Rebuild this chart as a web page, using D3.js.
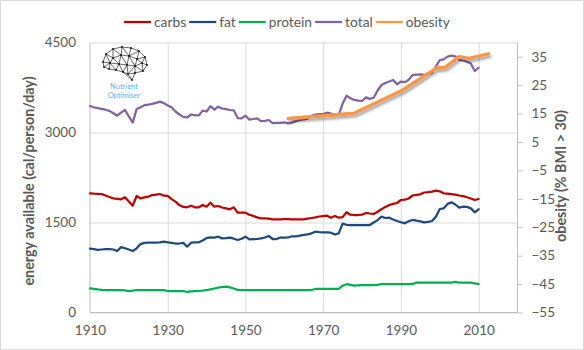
<!DOCTYPE html>
<html><head><meta charset="utf-8">
<script src="https://cdn.jsdelivr.net/npm/d3@7/dist/d3.min.js"></script>
<style>
body{margin:0;background:#fff}
svg{display:block}
text{font-family:Lato,"Open Sans",sans-serif}
</style>
</head><body>
<svg id="c" width="584" height="350"></svg>
<script>
// ---------- data ----------
const firstYear = 1910, lastYear = 2010;
const years = d3.range(firstYear, lastYear + 1);

const carbs = [
 1986,1980,1978,1975,1950,1925,1903,1895,1886,1920,
 1850,1780,1942,1903,1920,1930,1958,1965,1975,1947,
 1942,1890,1847,1790,1760,1753,1780,1753,1753,1792,
 1763,1830,1763,1775,1750,1736,1720,1753,1664,1664,
 1664,1630,1610,1585,1570,1570,1565,1553,1553,1553,
 1558,1555,1553,1553,1553,1553,1565,1575,1585,1600,
 1608,1614,1580,1608,1580,1590,1670,1630,1625,1625,
 1630,1660,1650,1642,1680,1720,1760,1792,1810,1825,
 1875,1880,1900,1950,1960,1969,2000,2005,2014,2031,
 2020,1986,1980,1972,1965,1950,1940,1920,1900,1875,
 1892];
const fat = [
 1063,1055,1045,1050,1055,1058,1050,1025,1090,1070,
 1050,1025,1070,1140,1160,1164,1164,1164,1170,1181,
 1170,1160,1150,1150,1160,1097,1164,1168,1170,1200,
 1240,1253,1247,1264,1235,1240,1247,1230,1208,1230,
 1264,1219,1222,1225,1236,1250,1275,1225,1225,1250,
 1247,1250,1270,1268,1281,1295,1303,1320,1347,1340,
 1336,1335,1331,1300,1319,1480,1462,1458,1458,1458,
 1458,1458,1458,1500,1540,1597,1575,1580,1550,1525,
 1505,1486,1520,1542,1530,1520,1503,1510,1525,1597,
 1725,1736,1810,1836,1800,1747,1764,1760,1736,1670,
 1720];
const protein = [
 403,395,385,378,375,375,375,375,375,368,
 358,365,375,375,375,375,375,375,375,372,
 358,358,358,358,355,342,352,358,360,364,
 375,386,400,414,425,431,418,400,378,375,
 375,375,375,375,375,375,375,375,375,375,
 375,375,375,375,375,375,375,375,392,392,
 392,392,392,392,392,447,472,460,447,452,
 458,458,458,458,462,475,475,475,475,475,
 475,475,475,475,497,497,497,497,497,497,
 497,497,497,497,510,497,497,497,497,485,
 475];
const total = [
 3442,3420,3405,3395,3380,3360,3320,3280,3330,3375,
 3270,3165,3390,3420,3455,3465,3478,3495,3514,3490,
 3450,3420,3350,3300,3260,3250,3300,3290,3285,3365,
 3350,3440,3380,3430,3400,3390,3375,3370,3240,3236,
 3280,3215,3225,3236,3190,3195,3208,3155,3160,3160,
 3168,3153,3165,3190,3208,3220,3230,3280,3300,3305,
 3308,3330,3315,3292,3292,3480,3614,3570,3542,3530,
 3525,3586,3560,3580,3700,3792,3825,3850,3875,3805,
 3847,3840,3880,3958,3965,3968,3960,3970,3997,4100,
 4208,4219,4264,4281,4270,4210,4200,4180,4150,4025,
 4081];
const obesityYears = [1961, 1971, 1978, 1990.5, 1999, 2001.5, 2005, 2007.5, 2012.5];
const obesity      = [13.3, 14.3, 15.1, 23.3,   30.9, 31.3,   35.0, 34.4,   36.0];

const xTicks = [1910, 1930, 1950, 1970, 1990, 2010];
const leftTicks = [0, 1500, 3000, 4500];
const rightTicks = [35, 25, 15, 5, -5, -15, -25, -35, -45, -55];

const seriesNames = ["carbs", "fat", "protein", "total", "obesity"];
const seriesColors = ["#C00000", "#1F497D", "#00B050", "#8064A2", "#F79646"];

// ---------- layout ----------
const svg = d3.select("#c");
const L = 90, R = 517.5, T = 42.5, B = 312.5;
const x = d3.scaleLinear().domain([1910, 2020]).range([L, R]);
const yL = d3.scaleLinear().domain([0, 4500]).range([B, T]);
const yR = d3.scaleLinear().domain([-55, 40]).range([B, T]);
const txtCol = "#595959", gridCol = "#d9d9d9", axisCol = "#bfbfbf";

// outer border
svg.append("rect").attr("x", 0.5).attr("y", 0.5).attr("width", 583).attr("height", 349)
  .attr("fill", "#fff").attr("stroke", gridCol);

const defs = svg.append("defs");
const f = defs.append("filter").attr("id", "shadow").attr("x", "-10%").attr("y", "-50%").attr("width", "130%").attr("height", "250%");
f.append("feDropShadow").attr("dx", 1.5).attr("dy", 2.5).attr("stdDeviation", 1.3)
  .attr("flood-color", "#000").attr("flood-opacity", 0.35);

// gridlines
const gy = svg.append("g").attr("transform", `translate(${L},0)`)
  .call(d3.axisLeft(yL).tickValues(leftTicks).tickSize(-(R - L)).tickFormat(""));
gy.select(".domain").remove();
gy.selectAll("line").attr("stroke", gridCol).attr("stroke-width", 1);
const gx = svg.append("g").attr("transform", `translate(0,${B})`)
  .call(d3.axisBottom(x).tickValues(xTicks.slice(1)).tickSize(-(B - T)).tickFormat(""));
gx.select(".domain").remove();
gx.selectAll("line").attr("stroke", gridCol).attr("stroke-width", 1);

// axis lines
svg.append("line").attr("x1", L).attr("x2", L).attr("y1", T).attr("y2", B).attr("stroke", axisCol);
svg.append("line").attr("x1", L).attr("x2", R).attr("y1", B).attr("y2", B).attr("stroke", axisCol);

// left axis labels
const ay = svg.append("g").attr("transform", `translate(${L - 14},0)`)
  .call(d3.axisLeft(yL).tickValues(leftTicks).tickSize(0).tickPadding(0).tickFormat(d3.format("d")));
ay.select(".domain").remove();
ay.selectAll("text").attr("fill", txtCol).style("font-size", "13.5px").attr("font-family", null);

// bottom axis labels
const ax = svg.append("g").attr("transform", `translate(0,${B + 13})`)
  .call(d3.axisBottom(x).tickValues(xTicks).tickSize(0).tickPadding(0).tickFormat(d3.format("d")));
ax.select(".domain").remove();
ax.selectAll("text").attr("fill", txtCol).style("font-size", "13.5px").attr("font-family", null);

// right axis
const ar = svg.append("g").attr("transform", `translate(${R},0)`)
  .call(d3.axisRight(yR).tickValues(rightTicks).tickSize(5).tickPadding(9).tickFormat(d3.format("d")));
ar.select(".domain").attr("stroke", axisCol).attr("d", `M0,${T}V${B}`);
ar.selectAll("line").attr("stroke", axisCol);
ar.selectAll("text").attr("fill", txtCol).style("font-size", "13.5px").attr("font-family", null);

// axis titles
svg.append("text").attr("transform", `translate(34,181) rotate(-90)`).attr("text-anchor", "middle")
  .attr("fill", txtCol).style("font-size", "14.3px").style("font-weight", "bold")
  .text("energy available (cal/person/day)");
svg.append("text").attr("transform", `translate(566,176) rotate(-90)`).attr("text-anchor", "middle")
  .attr("fill", txtCol).style("font-size", "14.3px").style("font-weight", "bold")
  .text("obesity (% BMI > 30)");

// logo
const logo = svg.append("g").attr("transform", "translate(101,46)");
const brainPts = [[2,16],[5,8],[12,3],[21,1],[30,2],[38,5],[44,11],[46,19],[42,25],[34,27],[27,28],[31,34],
  [22,26],[15,24],[8,23],[3,21],[12,12],[20,9],[28,10],[36,13],[18,18],[26,19],[34,20],[9,17],[41,17]];
const del = d3.Delaunay.from(brainPts);
const tri = del.triangles;
const edges = new Set();
for (let i = 0; i < tri.length; i += 3) {
  for (let k = 0; k < 3; k++) {
    const a = tri[i + k], b = tri[i + (k + 1) % 3];
    const key = a < b ? a + "-" + b : b + "-" + a;
    const pa = brainPts[a], pb = brainPts[b];
    if (Math.hypot(pa[0] - pb[0], pa[1] - pb[1]) < 14) edges.add(key);
  }
}
edges.forEach(k => {
  const [a, b] = k.split("-").map(Number);
  logo.append("line").attr("x1", brainPts[a][0]).attr("y1", brainPts[a][1])
    .attr("x2", brainPts[b][0]).attr("y2", brainPts[b][1]).attr("stroke", "#222").attr("stroke-width", 0.7);
});
logo.selectAll("circle").data(brainPts).join("circle")
  .attr("cx", d => d[0]).attr("cy", d => d[1]).attr("r", 0.9).attr("fill", "#111");
svg.append("text").attr("x", 124).attr("y", 89).attr("text-anchor", "middle").attr("fill", "#62AEEA")
  .style("font-size", "7.5px").text("Nutrient");
svg.append("text").attr("x", 124).attr("y", 97.5).attr("text-anchor", "middle").attr("fill", "#62AEEA")
  .style("font-size", "7.5px").text("Optimiser");

// lines
const plot = svg.append("g");
const leftSeries = [carbs, fat, protein, total];
leftSeries.forEach((vals, i) => {
  const line = d3.line().x((d, j) => x(years[j])).y(d => yL(d));
  plot.append("path").datum(vals).attr("d", line).attr("fill", "none")
    .attr("stroke", seriesColors[i]).attr("stroke-width", 2.25)
    .attr("stroke-linejoin", "round").attr("stroke-linecap", "round");
});
const obLine = d3.line().x((d, j) => x(obesityYears[j])).y(d => yR(d));
plot.append("path").datum(obesity).attr("d", obLine).attr("fill", "none")
  .attr("stroke", seriesColors[4]).attr("stroke-width", 3.5)
  .attr("stroke-linejoin", "round").attr("stroke-linecap", "round").attr("filter", "url(#shadow)");

// legend
const lg = svg.append("g").attr("transform", "translate(124,22)");
let lx = 0;
seriesNames.forEach((n, i) => {
  lg.append("line").attr("x1", lx).attr("x2", lx + 27).attr("y1", 0).attr("y2", 0)
    .attr("stroke", seriesColors[i]).attr("stroke-width", 2.25);
  const t = lg.append("text").attr("x", lx + 30).attr("y", 4.8).attr("fill", txtCol)
    .style("font-size", "13.8px").text(n);
  lx += 30 + t.node().getComputedTextLength() + 3;
});
</script>
</body></html>
